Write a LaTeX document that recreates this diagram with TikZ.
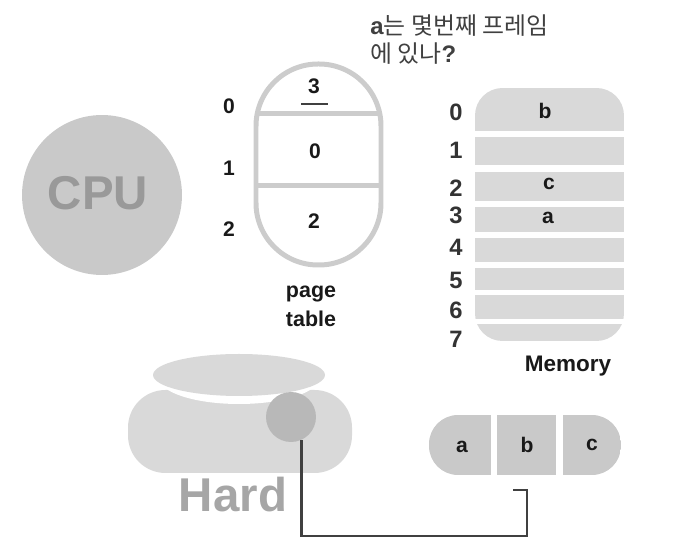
\documentclass[tikz,border=0pt]{standalone}
\usepackage{fontspec}
\setmainfont{Liberation Sans}
\newfontfamily\krfont{Noto Sans CJK KR}
\tikzset{
	px/.style={x=0.02cm,y=-0.02cm},
	numlabel/.style={font=\fontsize{12}{14}\selectfont\bfseries,text=black!90,inner sep=0pt},
	memlabel/.style={font=\fontsize{13.5}{16}\selectfont\bfseries,text=black!80,inner sep=0pt},
	biglabel/.style={font=\fontsize{27}{30}\selectfont\bfseries,inner sep=0pt},
	tablebox/.style={draw=black!20,line width=0.1cm},
}
\begin{document}
\begin{tikzpicture}[px]
	\useasboundingbox (0,0) rectangle (698,557);

	% CPU
	\node[circle,fill=black!21,minimum size=3.2cm,inner sep=0pt] (cpu) at (102,195) {};
	\node[biglabel,text=black!40] (cpulabel) at (98,193) {CPU};

	% Question
	\node[anchor=north west,align=left,inner sep=0pt,text=black!75,font=\fontsize{13.6}{16}\selectfont] (question) at (370,14)
		{\textbf{a}{\krfont 는 몇번째 프레임}\\{\krfont 에 있나}\textbf{?}};

	% Page table
	\draw[tablebox,rounded corners=1.24cm] (256,64) rectangle (381,265);
	\draw[tablebox] (256,114) -- (381,114);
	\draw[tablebox] (256,186) -- (381,186);
	\foreach \name/\y/\val in {a/106/0,b/168/1,c/229/2} {
		\node[numlabel] (idx\name) at (229,\y) {\val};
	}
	\node[numlabel] (entrya) at (314,86) {3};
	\node[numlabel] (entryb) at (315,151) {0};
	\node[numlabel] (entryc) at (314,221) {2};
	\draw[line width=0.05cm,black!75] (301,104) -- (328,104);
	\node[numlabel,align=center,font=\fontsize{12.2}{16.5}\selectfont\bfseries] (tablelabel) at (311,306) {page\\table};

	% Memory
	\begin{scope}
		\clip[rounded corners=0.55cm] (475,88) rectangle (624,341);
		\foreach \top/\bot in {88/131,137/165,172/201,207/232,238/262,268/290,295/319,324/341} {
			\fill[black!15] (475,\top) rectangle (624,\bot);
		}
	\end{scope}
	\foreach \y/\val in {112/0,150/1,188/2,215/3,247/4,280/5,310/6,339/7} {
		\node[memlabel] (mem\val) at (456,\y) {\val};
	}
	\node[numlabel] (memb) at (545,111) {b};
	\node[numlabel] (memc) at (549,184) {c};
	\node[numlabel] (mema) at (548,218) {a};
	\node[numlabel,font=\fontsize{12.8}{14}\selectfont\bfseries] (memlabel) at (568,366) {Memory};

	% Hard disk
	\fill[black!15,rounded corners=0.75cm] (128,390) rectangle (352,473);
	\fill[white] (239,378) ellipse (80 and 26);
	\fill[black!15] (239,375) ellipse (86 and 21);
	\node[circle,fill=black!28,minimum size=1cm,inner sep=0pt] (head) at (291,417) {};
	\node[biglabel,text=black!35] (hardlabel) at (233,495) {Hard};

	% Buffer
	\begin{scope}
		\clip[rounded corners=0.58cm] (429,415) rectangle (621,475);
		\foreach \left/\right in {429/491,497/556,563/621} {
			\fill[black!21] (\left,415) rectangle (\right,475);
		}
	\end{scope}
	\node[numlabel] (bufa) at (462,447) {a};
	\node[numlabel] (bufb) at (527,445) {b};
	\node[numlabel] (bufc) at (592,445) {c};

	% Read path
	\coordinate (pathend) at (513,490);
	\draw[line width=0.05cm,black!75] (head.-65) -- ++(0,96) -| (527,490) -- (pathend);
\end{tikzpicture}
\end{document}
